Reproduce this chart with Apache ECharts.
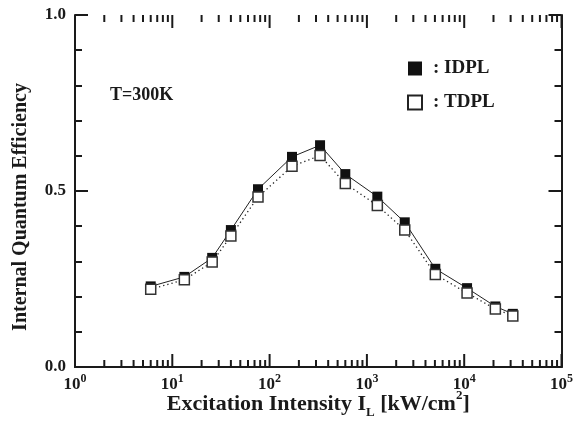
<!DOCTYPE html>
<html>
<head>
<meta charset="utf-8">
<script src="https://cdn.jsdelivr.net/npm/echarts@6/dist/echarts.min.js"></script>
<style>
  html, body { margin: 0; padding: 0; background: #fff; }
  #chart { width: 576px; height: 435px; }
</style>
</head>
<body>
<div id="chart"></div>
<script>
// Excitation intensity (kW/cm^2) for each measurement
var intensity = [6.0, 13.3, 25.7, 40, 76, 170, 330, 600, 1280, 2450, 5050, 10700, 20900, 31600];
// Internal quantum efficiency from intensity-dependent PL
var idpl = [0.229, 0.256, 0.310, 0.389, 0.505, 0.597, 0.630, 0.548, 0.484, 0.411, 0.279, 0.224, 0.172, 0.151];
// Internal quantum efficiency from temperature-dependent PL
var tdpl = [0.221, 0.248, 0.298, 0.372, 0.483, 0.570, 0.601, 0.521, 0.459, 0.389, 0.263, 0.210, 0.165, 0.145];
var seriesNames = ['IDPL', 'TDPL'];
var yTicks = [0.0, 0.5, 1.0];
var xDecades = [0, 1, 2, 3, 4, 5];

var FONT = '"Liberation Serif", "Times New Roman", serif';
var INK = '#1a1a1a';

function pairs(xs, ys) {
  return xs.map(function (x, i) { return [x, ys[i]]; });
}

// tick marks for the logarithmic axes: [value, edge (0 bottom / 1 top), length px]
var logTicks = [];
for (var d = 0; d < xDecades.length; d++) {
  var dec = Math.pow(10, xDecades[d]);
  [0, 1].forEach(function (edge) { logTicks.push([dec, edge, 13]); });
  if (d < xDecades.length - 1) {
    for (var m = 2; m <= 9; m++) {
      [0, 1].forEach(function (edge) { logTicks.push([m * dec, edge, 7]); });
    }
  }
}

var chart = echarts.init(document.getElementById('chart'), null, { renderer: 'canvas' });

var supRich = {
  base: { fontFamily: FONT, fontWeight: 'bold', fontSize: 17, color: INK, verticalAlign: 'bottom', lineHeight: 20 },
  sup: { fontFamily: FONT, fontWeight: 'bold', fontSize: 12, color: INK, verticalAlign: 'top', lineHeight: 20 }
};

var axisLine = { show: true, lineStyle: { color: INK, width: 2 } };

chart.setOption({
  animation: false,
  backgroundColor: '#fff',
  grid: { left: 75, right: 14, top: 15, bottom: 68 },
  legend: {
    orient: 'vertical',
    left: 407,
    top: 59,
    padding: 0,
    itemWidth: 14,
    itemHeight: 14,
    itemGap: 15,
    data: [
      { name: 'IDPL', icon: 'rect', itemStyle: { color: '#111', borderColor: '#111', borderWidth: 0 } },
      { name: 'TDPL', icon: 'rect', itemStyle: { color: '#fff', borderColor: '#222', borderWidth: 2 } }
    ],
    formatter: function (n) { return ': ' + n; },
    textStyle: { fontFamily: FONT, fontWeight: 'bold', fontSize: 19, color: INK, padding: [0, 0, 0, 6] },
    selectedMode: false
  },
  graphic: [{
    type: 'text',
    left: 110,
    top: 86,
    style: { text: 'T=300K', font: 'bold 18px ' + FONT, fill: INK }
  }],
  xAxis: [{
    type: 'log',
    logBase: 10,
    min: 1,
    max: 100000,
    name: 'Excitation Intensity I{sub|L} [kW/cm{sup|2}]',
    nameLocation: 'middle',
    nameGap: 22,
    nameMoveOverlap: false,
    nameTextStyle: {
      rich: {
        sub: { fontFamily: FONT, fontWeight: 'bold', fontSize: 13, color: INK, verticalAlign: 'bottom', lineHeight: 30 },
        sup: { fontFamily: FONT, fontWeight: 'bold', fontSize: 13, color: INK, verticalAlign: 'top', lineHeight: 30 }
      },
      fontFamily: FONT, fontWeight: 'bold', fontSize: 22, color: INK, lineHeight: 30
    },
    axisLine: axisLine,
    axisTick: { show: false },
    splitLine: { show: false },
    axisLabel: {
      margin: 6,
      formatter: function (v) { return '{base|10}{sup|' + Math.round(Math.log10(v)) + '}'; },
      rich: supRich
    }
  }, {
    type: 'log',
    logBase: 10,
    min: 1,
    max: 100000,
    position: 'top',
    axisLine: axisLine,
    axisTick: { show: false },
    splitLine: { show: false },
    axisLabel: { show: false }
  }],
  yAxis: [{
    type: 'value',
    min: 0,
    max: 1,
    interval: 0.5,
    name: 'Internal Quantum Efficiency',
    nameLocation: 'middle',
    nameGap: 44,
    nameMoveOverlap: false,
    nameTextStyle: { fontFamily: FONT, fontWeight: 'bold', fontSize: 20, color: INK, padding: [0, 32, 0, 0] },
    axisLine: axisLine,
    axisTick: { show: true, inside: true, length: 13, lineStyle: { color: INK, width: 2 } },
    minorTick: { show: true, splitNumber: 5, length: 7, lineStyle: { color: INK, width: 2 } },
    splitLine: { show: false },
    minorSplitLine: { show: false },
    axisLabel: {
      margin: 9,
      fontFamily: FONT, fontWeight: 'bold', fontSize: 17, color: INK,
      formatter: function (v) { return v.toFixed(1); }
    }
  }, {
    type: 'value',
    min: 0,
    max: 1,
    interval: 0.5,
    position: 'right',
    axisLine: axisLine,
    axisTick: { show: true, inside: true, length: 13, lineStyle: { color: INK, width: 2 } },
    minorTick: { show: true, splitNumber: 5, length: 7, lineStyle: { color: INK, width: 2 } },
    splitLine: { show: false },
    axisLabel: { show: false }
  }],
  series: [{
    // decade and sub-decade ticks for the logarithmic axes, bottom and top edges
    type: 'custom',
    silent: true,
    xAxisIndex: 0,
    yAxisIndex: 0,
    data: logTicks,
    clip: false,
    encode: { x: 0, y: 1 },
    renderItem: function (params, api) {
      var v = api.value(0);
      var edge = api.value(1);
      var len = api.value(2);
      var p = api.coord([v, edge]);
      var dir = edge === 0 ? -1 : 1;
      return {
        type: 'line',
        z2: 10,
        shape: { x1: p[0], y1: p[1], x2: p[0], y2: p[1] + dir * len },
        style: { stroke: INK, lineWidth: 2 }
      };
    },
    z: 5
  }, {
    name: seriesNames[0],
    type: 'line',
    data: pairs(intensity, idpl),
    symbol: 'rect',
    symbolSize: 10,
    lineStyle: { color: '#222', width: 1, type: 'solid' },
    itemStyle: { color: '#111', borderColor: '#111', borderWidth: 0 },
    z: 3
  }, {
    name: seriesNames[1],
    type: 'line',
    data: pairs(intensity, tdpl),
    symbol: 'rect',
    symbolSize: 10,
    lineStyle: { color: '#222', width: 1.3, type: [1.3, 3] },
    itemStyle: { color: '#fff', borderColor: '#333', borderWidth: 1.5 },
    z: 4
  }]
});
</script>
</body>
</html>
